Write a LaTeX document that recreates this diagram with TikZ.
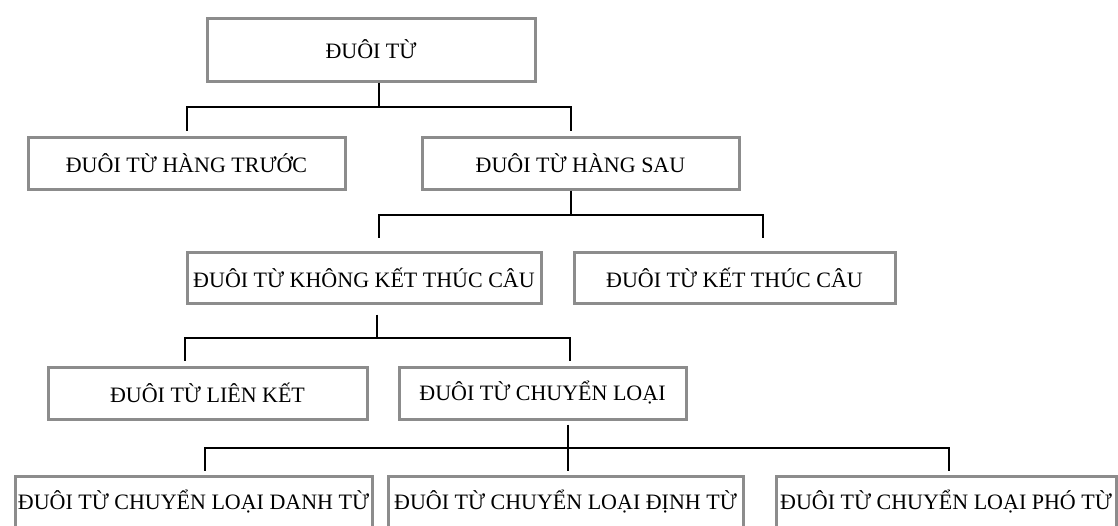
\documentclass[tikz,border=0pt]{standalone}
\usepackage{fontspec}
\setmainfont{Liberation Serif}
\definecolor{boxgray}{RGB}{140,140,140}
\tikzset{x=0.5pt, y=-0.5pt,
    box/.style={draw=boxgray, line width=1.5pt, inner sep=0pt, font=\fontsize{11}{13}\selectfont},
    link/.style={line width=0.75pt}}

\begin{document}
\begin{tikzpicture}
                \useasboundingbox (0,0) rectangle (1118,525);
                \clip (0,0) rectangle (1118,525);
                \node[box, minimum width=164pt, minimum height=31.5pt] (root) at (371,49.5) {ĐUÔI TỪ};
                \node[box, minimum width=158.5pt, minimum height=26pt] (truoc) at (186.5,163) {ĐUÔI TỪ HÀNG TRƯỚC};
                \node[box, minimum width=158.5pt, minimum height=26pt] (sau) at (580.5,163) {ĐUÔI TỪ HÀNG SAU};
                \node[box, minimum width=177pt, minimum height=25.5pt] (khong) at (364,277.5) {ĐUÔI TỪ KHÔNG KẾT THÚC CÂU};
                \node[box, minimum width=160.5pt, minimum height=25.5pt] (ketthuc) at (734.5,277.5) {ĐUÔI TỪ KẾT THÚC CÂU};
                \node[box, minimum width=159.5pt, minimum height=26pt] (lienket) at (207.5,393) {ĐUÔI TỪ LIÊN KẾT};
                \node[box, minimum width=143.5pt, minimum height=26pt] (chuyen) at (542.5,393) {ĐUÔI TỪ CHUYỂN LOẠI};
                \node[box, minimum width=178.5pt, minimum height=26pt] (danh) at (193.5,502) {ĐUÔI TỪ CHUYỂN LOẠI DANH TỪ};
                \node[box, minimum width=177.5pt, minimum height=26pt] (dinh) at (565.5,502) {ĐUÔI TỪ CHUYỂN LOẠI ĐỊNH TỪ};
                \node[box, minimum width=170pt, minimum height=26pt] (pho) at (946,502) {ĐUÔI TỪ CHUYỂN LOẠI PHÓ TỪ};
                \coordinate (b1) at (379,107);
                \coordinate (b2) at (571,215);
                \coordinate (b3) at (377,338);
                \coordinate (b4) at (568,448);
                \draw[link] (root.south -| b1) -- (b1);
                \draw[link] ([yshift=2.5pt]truoc.north -| 187,0) |- (b1) -| ([yshift=2.5pt]sau.north -| b2);
                \draw[link] (sau.south -| b2) -- (b2);
                \draw[link] ([yshift=6.5pt]khong.north -| b1) |- (b2) -| ([yshift=6.5pt]ketthuc.north -| 763,0);
                \draw[link] ([yshift=-5pt]khong.south -| b3) -- (b3);
                \draw[link] ([yshift=2.5pt]lienket.north -| 185,0) |- (b3) -| ([yshift=2.5pt]chuyen.north -| 570,0);
                \draw[link] ([yshift=-2pt]chuyen.south -| b4) -- ([yshift=2pt]dinh.north -| b4);
                \draw[link] ([yshift=2pt]danh.north -| 205,0) |- (b4) -| ([yshift=2pt]pho.north -| 949,0);
            \end{tikzpicture}
\end{document}
